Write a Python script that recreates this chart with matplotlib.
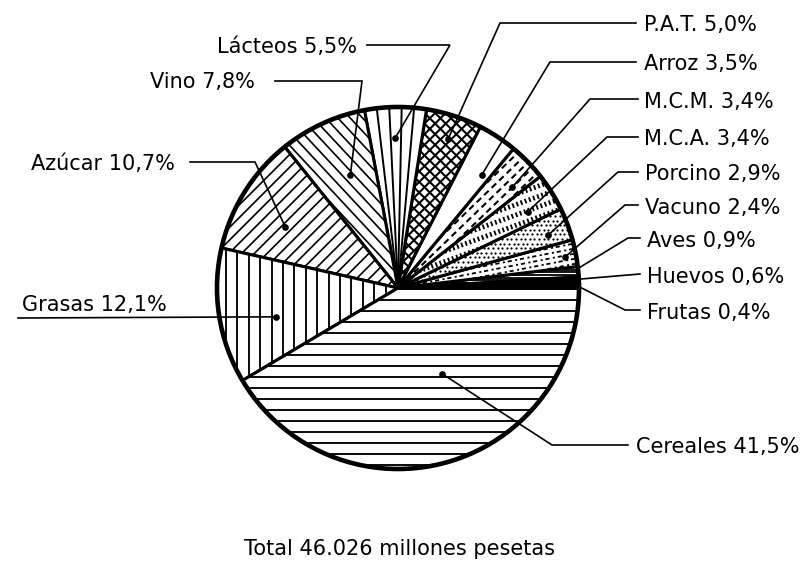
import numpy as np
import matplotlib
matplotlib.use("Agg")
import matplotlib.pyplot as plt
from matplotlib.collections import LineCollection
from matplotlib.patches import Circle

# ---------------- data ----------------
categories = ["Frutas", "Huevos", "Aves", "Vacuno", "Porcino", "M.C.A.", "M.C.M.",
              "Arroz", "P.A.T.", "Lácteos", "Vino", "Azúcar", "Grasas", "Cereales"]
shares = [0.4, 0.6, 0.9, 2.4, 2.9, 3.4, 3.4, 3.5, 5.0, 5.5, 7.8, 10.7, 12.1, 41.5]
title_text = "Total 46.026 millones pesetas"

# ---------------- layout ----------------
W, H = 808, 563
CX, CY, R = 398, 288, 181          # pie centre / radius in pixel units (y downwards)
FS = 15

plt.rcParams['font.family'] = ['DejaVu Sans']
plt.rcParams['lines.scale_dashes'] = False

fig = plt.figure(figsize=(W / 100, H / 100), dpi=100)
ax = fig.add_axes([0, 0, 1, 1])


def Y(py):
    return H - py


wedges, _ = ax.pie(shares, radius=R, center=(CX, Y(CY)), startangle=0,
                   counterclock=True, colors=['white'] * len(shares),
                   wedgeprops=dict(edgecolor='black', linewidth=2.2), frame=True)
ax.set_xlim(0, W)
ax.set_ylim(0, H)
ax.set_aspect('equal')
ax.axis('off')
wmap = dict(zip(categories, wedges))


def hatch_lines(w, angle, spacing, lw=1.0, ls='-', offset=0.0, color='black', z=1.5):
    cx, cy = w.center
    r = w.r
    a = np.deg2rad(angle)
    d = np.array([np.cos(a), np.sin(a)])
    n = np.array([-np.sin(a), np.cos(a)])
    m = int(r / spacing) + 3
    segs = []
    for k in range(-m, m + 1):
        p = np.array([cx, cy]) + n * (k * spacing + offset)
        segs.append([p - d * r * 1.2, p + d * r * 1.2])
    lc = LineCollection(segs, colors=color, linewidths=lw, linestyles=ls, zorder=z)
    ax.add_collection(lc, autolim=False)
    lc.set_clip_path(w)


def radial_lines(w, n, lw=1.2):
    cx, cy = w.center
    ts = np.linspace(w.theta1, w.theta2, n + 2)[1:-1]
    segs = [[(cx, cy), (cx + w.r * np.cos(np.deg2rad(t)), cy + w.r * np.sin(np.deg2rad(t)))]
            for t in ts]
    lc = LineCollection(segs, colors='black', linewidths=lw, zorder=1.5)
    ax.add_collection(lc, autolim=False)
    lc.set_clip_path(w)


def dot_grid(w, spacing, size):
    cx, cy = w.center
    r = w.r
    xs, ys = [], []
    vals = np.arange(-r, r + spacing, spacing)
    for i, yy in enumerate(vals):
        for xx in vals + (spacing / 2 if i % 2 else 0):
            rr = np.hypot(xx, yy)
            if rr > r:
                continue
            t = np.degrees(np.arctan2(yy, xx)) % 360
            if w.theta1 - 2 <= t <= w.theta2 + 2:
                xs.append(cx + xx)
                ys.append(cy + yy)
    sc = ax.scatter(xs, ys, s=size, c='black', linewidths=0, zorder=1.5)
    sc.set_clip_path(w)


# ---------------- textures ----------------
hatch_lines(wmap["Cereales"], 0, 11, lw=1.35, offset=-1)
hatch_lines(wmap["Grasas"], 90, 11.4, lw=1.35, offset=1)
hatch_lines(wmap["Azúcar"], 45, 9, lw=1.2)
hatch_lines(wmap["Vino"], -47, 9, lw=1.2)
radial_lines(wmap["Lácteos"], 4, lw=1.4)
hatch_lines(wmap["P.A.T."], 45, 7.5, lw=1.5)
hatch_lines(wmap["P.A.T."], -45, 7.5, lw=1.5)
hatch_lines(wmap["M.C.M."], 44, 7, lw=1.5, ls=(0, (4.5, 3.0)))
hatch_lines(wmap["M.C.A."], 110, 4.4, lw=1.3, ls=(0, (3.5, 3.5)))
dot_grid(wmap["Porcino"], 4.6, 2.6)
hatch_lines(wmap["Vacuno"], 11, 5, lw=1.3, ls=(0, (1.5, 2.0, 3.0, 2.5)))
hatch_lines(wmap["Aves"], 0, 2.6, lw=1.3)
wmap["Huevos"].set_facecolor('black')
wmap["Frutas"].set_facecolor('black')

ax.add_patch(Circle((CX, Y(CY)), R, fill=False, lw=3.3, ec='black', zorder=3))

# ---------------- labels with leader lines ----------------
# category: (fraction along wedge angle, fraction of radius, path points, text pos, ha, dot)
layout = {
    "P.A.T.":   (0.47, 0.87, [(500, 23), (636, 23)], (644, 23), 'left', True),
    "Arroz":    (0.25, 0.78, [(550, 62), (636, 62)], (644, 62), 'left', True),
    "M.C.M.":   (0.27, 0.84, [(590, 99), (638, 99)], (644, 100), 'left', True),
    "M.C.A.":   (0.37, 0.83, [(607, 137), (638, 137)], (644, 137), 'left', True),
    "Porcino":  (0.38, 0.88, [(618, 172), (638, 172)], (645, 172), 'left', True),
    "Vacuno":   (0.43, 0.94, [(625, 205), (638, 205)], (645, 206), 'left', True),
    "Aves":     (0.80, 1.00, [(628, 238), (640, 238)], (647, 239), 'left', False),
    "Huevos":   (0.60, 0.97, [(640, 274)], (647, 275), 'left', False),
    "Frutas":   (0.30, 1.00, [(625, 310), (640, 310)], (647, 311), 'left', False),
    "Cereales": (0.58, 0.535, [(552, 445), (628, 445)], (636, 445), 'left', True),
    "Grasas":   (0.60, 0.69, [(18, 318)], (167, 303), 'right', True),
    "Azúcar":   (0.59, 0.71, [(255, 162), (190, 162)], (175, 162), 'right', True),
    "Vino":     (0.43, 0.68, [(362, 81), (275, 81)], (255, 80), 'right', True),
    "Lácteos":  (0.51, 0.83, [(450, 45), (367, 45)], (357, 45), 'right', True),
}

cap = FS * 100 / 72 * 0.729
for cat, share in zip(categories, shares):
    w = wmap[cat]
    f, rf, path, tpos, ha, dot = layout[cat]
    t = np.deg2rad(w.theta1 + f * (w.theta2 - w.theta1))
    ax_, ay_ = w.center[0] + rf * w.r * np.cos(t), w.center[1] + rf * w.r * np.sin(t)
    xs = [ax_] + [p[0] for p in path]
    ys = [ay_] + [Y(p[1]) for p in path]
    ax.plot(xs, ys, color='black', lw=1.2, zorder=4, solid_joinstyle='miter')
    if dot:
        ax.plot([ax_], [ay_], 'o', color='black', ms=3.8, zorder=5)
    value_str = f"{share:.1f}".replace('.', ',')
    label = f"{cat} {value_str}%"
    ax.text(tpos[0], Y(tpos[1] + cap / 2), label, ha=ha, va='baseline',
            fontsize=FS, color='black')

ax.text(400, Y(547 + cap / 2), title_text, ha='center', va='baseline',
        fontsize=FS, color='black')

fig.savefig("out.png", dpi=100, facecolor='white')
